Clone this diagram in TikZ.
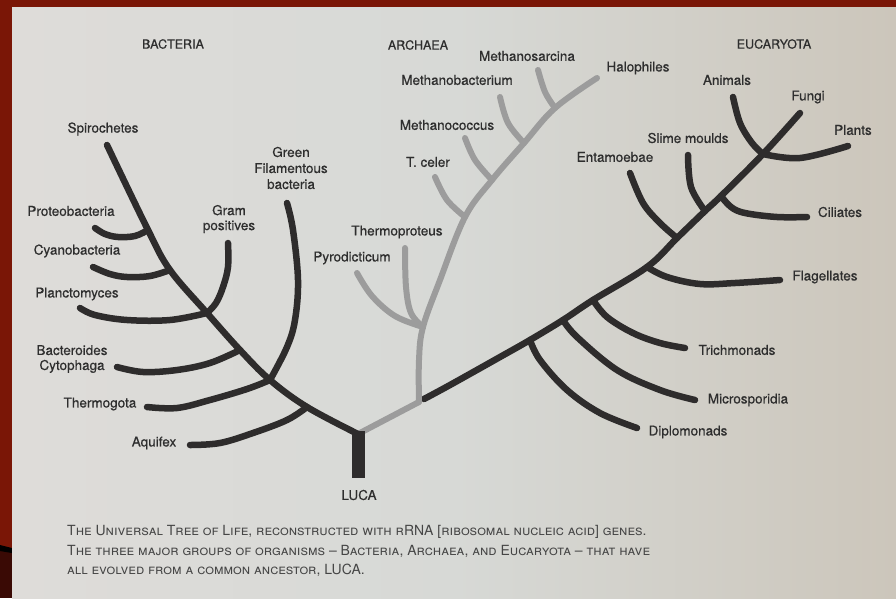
\documentclass[tikz,border=0pt]{standalone}
\usepackage{fontspec}
\usetikzlibrary{calc}
\setmainfont{TeX Gyre Heros}
\newfontfamily\lblfont[FakeBold=0.6]{TeX Gyre Heros}
\definecolor{frame}{HTML}{7A1606}
\definecolor{framedk}{HTML}{3A0A05}
\definecolor{pageL}{HTML}{DEDCD9}
\definecolor{pageM}{HTML}{D7D9D6}
\definecolor{pageR}{HTML}{CCC6BB}
\definecolor{brn}{HTML}{2E2C2C}
\definecolor{arc}{HTML}{9C9C9C}
\definecolor{txt}{HTML}{2E2E2E}
\definecolor{captxt}{HTML}{454545}
\begin{document}
\begin{tikzpicture}[x=1pt,y=-1pt,
  lbl/.style={font=\lblfont\fontsize{13.5}{15}\selectfont, text=txt, inner sep=0pt},
  grp/.style={font=\lblfont\fontsize{12.5}{14}\selectfont, text=txt, inner sep=0pt},
  captext/.style={font=\fontsize{14}{15}\selectfont, text=captxt, inner sep=0pt, anchor=west},
  bline/.style={draw=brn, line width=6.5pt, line cap=round, line join=round},
  aline/.style={draw=arc, line width=6pt, line cap=round, line join=round}]
\useasboundingbox (0,0) rectangle (896,598);
% frame and page
\fill[frame] (0,0) rectangle (896,598);
\fill[framedk] (0,548) rectangle (12,598);
\fill[black] (0,545) -- (12,548) -- (12,553) -- (0,551) -- cycle;
\shade[left color=pageL, right color=pageR, middle color=pageM] (12,7) rectangle (896,598);

% ---------- coordinates ----------
% Bacteria
\coordinate (spiro) at (107,145);
\coordinate (jProt) at (148,230);
\coordinate (jCyan) at (170,270);
\coordinate (jPlan) at (207,313);
\coordinate (jBact) at (240,350);
\coordinate (jTherm) at (270,380);
\coordinate (jAqu) at (307,407);
\coordinate (luca) at (358,434);
\coordinate (lucat) at (358,431);
\coordinate (lucab) at (358,478);
\coordinate (protT) at (95,228);
\coordinate (cyanT) at (93,267);
\coordinate (planT) at (80,308);
\coordinate (gramT) at (228,243);
\coordinate (greenT) at (287,203);
\coordinate (bactT) at (117,367);
\coordinate (thermT) at (147,407);
\coordinate (aquT) at (190,445);
% Archaea
\coordinate (aj) at (419,402);
\coordinate (jPyro) at (423,327);
\coordinate (jTce) at (465,217);
\coordinate (jMcoc) at (492,180);
\coordinate (jMbac) at (524,143);
\coordinate (jMsar) at (555,108);
\coordinate (halo) at (597,78);
\coordinate (msarT) at (538,70);
\coordinate (mbacT) at (500,97);
\coordinate (mcocT) at (465,138);
\coordinate (tceT) at (435,177);
\coordinate (tproT) at (405,248);
\coordinate (pyroT) at (357,273);
% Eucaryota
\coordinate (ej) at (424,399);
\coordinate (jDipl) at (530,340);
\coordinate (jMicro) at (563,320);
\coordinate (jTrich) at (593,300);
\coordinate (jFlag) at (647,267);
\coordinate (jEnt) at (677,238);
\coordinate (jSlime) at (705,211);
\coordinate (jCil) at (721,196);
\coordinate (jAnim) at (763,154);
\coordinate (fungi) at (800,113);
\coordinate (diplT) at (637,428);
\coordinate (microT) at (695,400);
\coordinate (trichT) at (685,348);
\coordinate (flagT) at (780,280);
\coordinate (entT) at (630,173);
\coordinate (slimeT) at (688,155);
\coordinate (cilT) at (807,217);
\coordinate (animT) at (733,97);
\coordinate (plantT) at (848,146);

% ---------- Eucaryota (black) ----------
\draw[bline] plot[smooth, tension=0.6] coordinates {(ej) (450,385) (500,357) (jDipl) (jMicro) (jTrich) (jFlag) (jEnt) (jSlime) (jCil) (jAnim) (fungi)};
\draw[bline] plot[smooth, tension=0.6] coordinates {(jDipl) (540,360) (567,390) (600,413) (diplT)};
\draw[bline] plot[smooth, tension=0.6] coordinates {(jMicro) (577,337) (617,370) (660,390) (microT)};
\draw[bline] plot[smooth, tension=0.6] coordinates {(jTrich) (607,317) (633,333) (660,343) (trichT)};
\draw[bline] plot[smooth, tension=0.6] coordinates {(jFlag) (667,277) (700,284) (735,283) (flagT)};
\draw[bline] plot[smooth, tension=0.6] coordinates {(entT) (643,203) (660,223) (jEnt)};
\draw[bline] plot[smooth, tension=0.6] coordinates {(slimeT) (691,187) (jSlime)};
\draw[bline] plot[smooth, tension=0.6] coordinates {(jCil) (731,207) (745,213) (777,217) (cilT)};
\draw[bline] plot[smooth, tension=0.6] coordinates {(animT) (740,123) (752,143) (jAnim)};
\draw[bline] plot[smooth, tension=0.6] coordinates {(jAnim) (800,158) (plantT)};

% ---------- Archaea (grey) ----------
\draw[aline] (luca) -- (aj);
\draw[aline] plot[smooth, tension=0.6] coordinates {(aj) (419,360) (jPyro) (440,280) (jTce) (jMcoc) (jMbac) (jMsar) (halo)};
\draw[aline] plot[smooth, tension=0.6] coordinates {(msarT) (545,92) (jMsar)};
\draw[aline] plot[smooth, tension=0.6] coordinates {(mbacT) (508,123) (jMbac)};
\draw[aline] plot[smooth, tension=0.6] coordinates {(mcocT) (475,160) (jMcoc)};
\draw[aline] plot[smooth, tension=0.6] coordinates {(tceT) (447,200) (jTce)};
\draw[aline] plot[smooth, tension=0.6] coordinates {(tproT) (406,287) (411,313) (jPyro)};
\draw[aline] plot[smooth, tension=0.6] coordinates {(pyroT) (372,296) (395,316) (jPyro)};

% ---------- Bacteria (black) ----------
\draw[bline] plot[smooth, tension=0.6] coordinates {(spiro) (jProt) (jCyan) (jPlan) (jBact) (jTherm) (jAqu) (luca)};
\draw[bline] plot[smooth, tension=0.6] coordinates {(protT) (105,234) (118,237) (135,236) (jProt)};
\draw[bline] plot[smooth, tension=0.6] coordinates {(cyanT) (110,274) (127,277) (150,276) (jCyan)};
\draw[bline] plot[smooth, tension=0.6] coordinates {(planT) (95,315) (127,320) (170,320) (jPlan)};
\draw[bline] plot[smooth, tension=0.6] coordinates {(gramT) (228,267) (223,287) (216,303) (jPlan)};
\draw[bline] plot[smooth, tension=0.6] coordinates {(greenT) (293,230) (298,280) (295,320) (287,347) (jTherm)};
\draw[bline] plot[smooth, tension=0.6] coordinates {(bactT) (143,372) (177,370) (210,363) (jBact)};
\draw[bline] plot[smooth, tension=0.6] coordinates {(thermT) (177,408) (210,400) (247,389) (jTherm)};
\draw[bline] plot[smooth, tension=0.6] coordinates {(aquT) (220,443) (253,433) (287,420) (jAqu)};
% LUCA trunk
\draw[draw=brn, line width=13pt] (lucat) -- (lucab);

% ---------- labels ----------
\node[grp] (gB) at (173,44) {BACTERIA};
\node[grp] (gA) at (418,45) {ARCHAEA};
\node[grp] (gE) at (774,44) {EUCARYOTA};

\node[lbl] (lSpiro) at (103,129) {Spirochetes};
\node[lbl] (lProt) at (71,211) {Proteobacteria};
\node[lbl] (lCyan) at (77,251) {Cyanobacteria};
\node[lbl] (lPlan) at (77,294) {Planctomyces};
\node[lbl, align=center] (lGram) at (229,219) {Gram\\positives};
\node[lbl, align=center, font=\lblfont\fontsize{13.5}{16}\selectfont] (lGreen) at (291,168) {Green\\Filamentous\\bacteria};
\node[lbl, align=center] (lBact) at (72,359) {Bacteroides\\Cytophaga};
\node[lbl] (lTherm) at (100,404) {Thermogota};
\node[lbl] (lAqu) at (154,443) {Aquifex};
\node[lbl] (lLuca) at (359,495) {LUCA};

\node[lbl] (lMsar) at (527,56) {Methanosarcina};
\node[lbl] (lMbac) at (457,80) {Methanobacterium};
\node[lbl] (lMcoc) at (447,125) {Methanococcus};
\node[lbl] (lTce) at (428,162) {T. celer};
\node[lbl] (lTpro) at (397,232) {Thermoproteus};
\node[lbl] (lPyro) at (352,258) {Pyrodicticum};
\node[lbl] (lHalo) at (638,68) {Halophiles};

\node[lbl] (lAnim) at (727,80) {Animals};
\node[lbl] (lFungi) at (808,97) {Fungi};
\node[lbl] (lPlant) at (853,130) {Plants};
\node[lbl] (lSlime) at (688,138) {Slime moulds};
\node[lbl] (lEnt) at (615,157) {Entamoebae};
\node[lbl] (lCil) at (840,212) {Ciliates};
\node[lbl] (lFlag) at (825,277) {Flagellates};
\node[lbl] (lTrich) at (737,350) {Trichmonads};
\node[lbl] (lMicro) at (748,400) {Microsporidia};
\node[lbl] (lDipl) at (688,432) {Diplomonads};

% ---------- caption ----------
\node[captext] (c1) at (67,532) {\textsc{The Universal Tree of Life, reconstructed with rRNA [ribosomal nucleic acid] genes.}};
\node[captext] (c2) at (67,551) {\textsc{The three major groups of organisms – Bacteria, Archaea, and Eucaryota – that have}};
\node[captext] (c3) at (67,570) {\textsc{all evolved from a common ancestor, LUCA.}};
\end{tikzpicture}
\end{document}
